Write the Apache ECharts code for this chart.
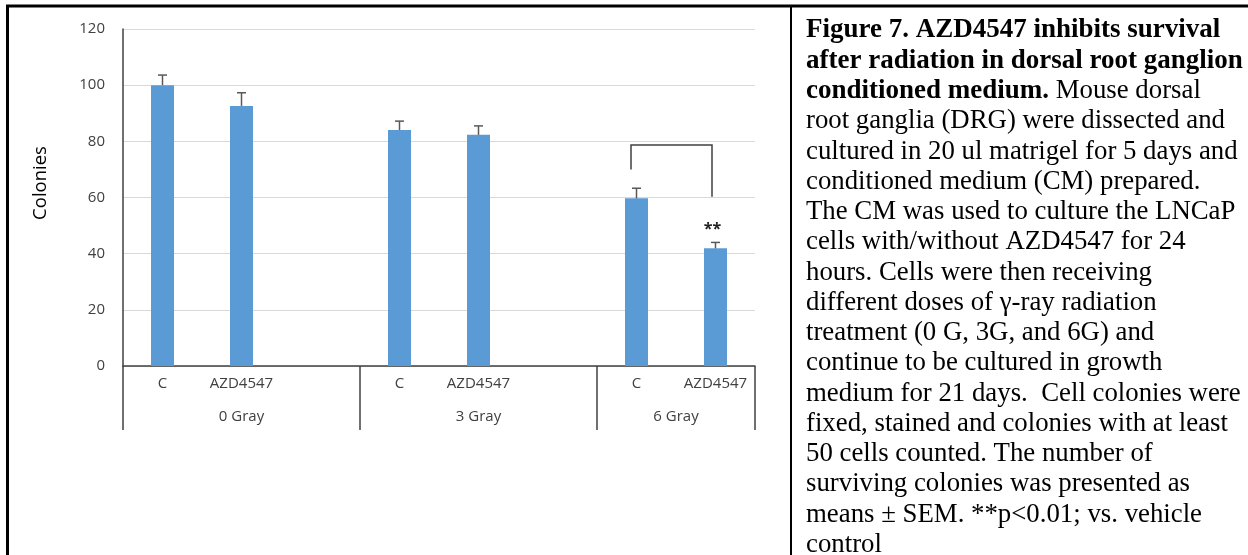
<!DOCTYPE html>
<html>
<head>
<meta charset="utf-8">
<script src="https://cdn.jsdelivr.net/npm/echarts@6/dist/echarts.min.js"></script>
<style>
  html, body { margin: 0; padding: 0; background: #fff; }
  #chart { width: 1248px; height: 555px; }
</style>
</head>
<body>
<div id="chart"></div>
<script>
// Treatments per slot; empty strings separate the dose groups
const categories = ['C', 'AZD4547', '', 'C', 'AZD4547', '', 'C', 'AZD4547'];
// Mean colonies and SEM for each slot
const colonies = [100, 92.6, null, 84.0, 82.3, null, 59.7, 41.9];
const sem = [3.6, 4.7, null, 3.2, 3.2, null, 3.6, 2.1];
// Radiation dose groups (slot ranges they cover)
const doseGroups = ['0 Gray', '3 Gray', '6 Gray'];
const doseSlots = [[0, 2], [3, 5], [6, 7]];
// Significance bracket: slots compared, bracket top, leg ends, marker
const sigPair = [6, 7];
const sigBracket = [78.7, 70, 60.3];
const sigMark = '**';
const sigMarkValue = 48.6;
const yTicks = [0, 20, 40, 60, 80, 100, 120];

// Figure caption lines; each is a list of [bold, text] runs
const captionLines = [
  [[true, 'Figure 7. AZD4547 inhibits survival']],
  [[true, 'after radiation in dorsal root ganglion']],
  [[true, 'conditioned medium.'], [false, ' Mouse dorsal']],
  [[false, 'root ganglia (DRG) were dissected and']],
  [[false, 'cultured in 20 ul matrigel for 5 days and']],
  [[false, 'conditioned medium (CM) prepared.']],
  [[false, 'The CM was used to culture the LNCaP']],
  [[false, 'cells with/without AZD4547 for 24']],
  [[false, 'hours. Cells were then receiving']],
  [[false, 'different doses of \u03b3-ray radiation']],
  [[false, 'treatment (0 G, 3G, and 6G) and']],
  [[false, 'continue to be cultured in growth']],
  [[false, 'medium for 21 days.  Cell colonies were']],
  [[false, 'fixed, stained and colonies with at least']],
  [[false, '50 cells counted. The number of']],
  [[false, 'surviving colonies was presented as']],
  [[false, 'means \u00b1 SEM. **p<0.01; vs. vehicle']],
  [[false, 'control']]
];

const AXIS_COLOR = '#404040';
const LABEL_FONT = '"Open Sans", sans-serif';
const CAPTION_FONT = '"Liberation Serif", "Times New Roman", serif';
const CAPTION_LINE = 30.25;

const chart = echarts.init(document.getElementById('chart'), null, { renderer: 'canvas' });

const captionGraphics = captionLines.map((runs, i) => ({
  type: 'text',
  left: 806,
  top: 17 + i * CAPTION_LINE,
  style: {
    text: runs.map(r => '{' + (r[0] ? 'b' : 'n') + '|' + r[1] + '}').join(''),
    rich: {
      b: { fontFamily: CAPTION_FONT, fontSize: 27, fontWeight: 'bold', fill: '#000', lineHeight: CAPTION_LINE },
      n: { fontFamily: CAPTION_FONT, fontSize: 26.8, fontWeight: 'normal', fill: '#000', lineHeight: CAPTION_LINE }
    }
  }
}));

const option = {
  animation: false,
  backgroundColor: '#fff',
  grid: { left: 123, right: 493, top: 29, bottom: 189, containLabel: false },
  xAxis: {
    type: 'category',
    data: categories,
    axisLine: { show: true, lineStyle: { color: AXIS_COLOR, width: 1.5 } },
    axisTick: { show: false },
    axisLabel: { interval: 0, margin: 10, color: AXIS_COLOR, fontFamily: LABEL_FONT, fontSize: 15 },
    splitLine: { show: false }
  },
  yAxis: {
    type: 'value',
    min: yTicks[0],
    max: yTicks[yTicks.length - 1],
    interval: yTicks[1] - yTicks[0],
    axisLine: { show: true, lineStyle: { color: AXIS_COLOR, width: 1.5 } },
    axisTick: { show: false },
    axisLabel: { margin: 18, color: AXIS_COLOR, fontFamily: LABEL_FONT, fontSize: 15 },
    splitLine: { show: true, lineStyle: { color: '#d9d9d9', width: 1 } }
  },
  graphic: [
    // outer frame and column divider
    { type: 'line', shape: { x1: 6, y1: 6, x2: 1248, y2: 6 }, style: { stroke: '#000', lineWidth: 3 } },
    { type: 'line', shape: { x1: 7.5, y1: 6, x2: 7.5, y2: 555 }, style: { stroke: '#000', lineWidth: 3 } },
    { type: 'line', shape: { x1: 791, y1: 6, x2: 791, y2: 555 }, style: { stroke: '#000', lineWidth: 2 } },
    // y axis title
    {
      type: 'text', x: 41, y: 183, rotation: Math.PI / 2,
      style: { text: 'Colonies', fontFamily: LABEL_FONT, fontSize: 18.5, fill: '#000', align: 'center', verticalAlign: 'middle' }
    }
  ].concat(captionGraphics),
  series: [
    {
      type: 'bar',
      data: colonies.map(v => (v == null ? '-' : v)),
      barWidth: 23,
      itemStyle: { color: '#5b9bd5' },
      z: 2
    },
    {
      // upward SEM whiskers
      type: 'custom',
      z: 3,
      data: colonies.map((v, i) => [i, v, sem[i]]).filter(d => d[1] != null),
      renderItem: function (params, api) {
        const i = api.value(0), v = api.value(1), e = api.value(2);
        const base = api.coord([i, v]);
        const top = api.coord([i, v + e]);
        const style = { stroke: '#595959', lineWidth: 1.5 };
        return {
          type: 'group',
          children: [
            { type: 'line', shape: { x1: base[0], y1: base[1], x2: top[0], y2: top[1] }, style },
            { type: 'line', shape: { x1: top[0] - 4.5, y1: top[1], x2: top[0] + 4.5, y2: top[1] }, style }
          ]
        };
      }
    },
    {
      // dose group dividers and labels under the category axis
      type: 'custom',
      clip: false,
      silent: true,
      data: doseSlots.map((s, g) => [s[0], s[1], g]),
      renderItem: function (params, api) {
        const s = api.value(0), e = api.value(1), g = api.value(2);
        const bw = api.size([1, 0])[0];
        const y0 = api.coord([0, 0])[1];
        const left = api.coord([s, 0])[0] - bw / 2;
        const right = api.coord([e, 0])[0] + bw / 2;
        const style = { stroke: AXIS_COLOR, lineWidth: 1.5 };
        const children = [
          { type: 'line', shape: { x1: left, y1: y0, x2: left, y2: y0 + 64 }, style }
        ];
        if (g === doseGroups.length - 1) {
          children.push({ type: 'line', shape: { x1: right, y1: y0, x2: right, y2: y0 + 64 }, style });
        }
        children.push({
          type: 'text',
          x: (left + right) / 2, y: y0 + 51,
          style: { text: doseGroups[g], fontFamily: LABEL_FONT, fontSize: 15, fill: AXIS_COLOR, align: 'center', verticalAlign: 'middle' }
        });
        return { type: 'group', children };
      }
    },
    {
      // significance bracket with marker
      type: 'custom',
      clip: false,
      silent: true,
      data: [[sigPair[0], sigPair[1]]],
      renderItem: function (params, api) {
        const a = api.value(0), b = api.value(1);
        const pTopL = api.coord([a, sigBracket[0]]);
        const pTopR = api.coord([b, sigBracket[0]]);
        const pL = api.coord([a, sigBracket[1]]);
        const pR = api.coord([b, sigBracket[2]]);
        const xl = pTopL[0] - 5.5, xr = pTopR[0] - 3.5;
        const mark = api.coord([b, sigMarkValue]);
        return {
          type: 'group',
          children: [
            {
              type: 'polyline',
              shape: { points: [[xl, pL[1]], [xl, pTopL[1]], [xr, pTopR[1]], [xr, pR[1]]] },
              style: { stroke: '#404040', lineWidth: 1.5, fill: null }
            },
            {
              type: 'text', x: mark[0] - 3, y: mark[1],
              style: { text: sigMark, fontFamily: LABEL_FONT, fontSize: 16, fontWeight: 'bold', fill: '#222', align: 'center', verticalAlign: 'middle' }
            }
          ]
        };
      }
    }
  ]
};

chart.setOption(option);
</script>
</body>
</html>
